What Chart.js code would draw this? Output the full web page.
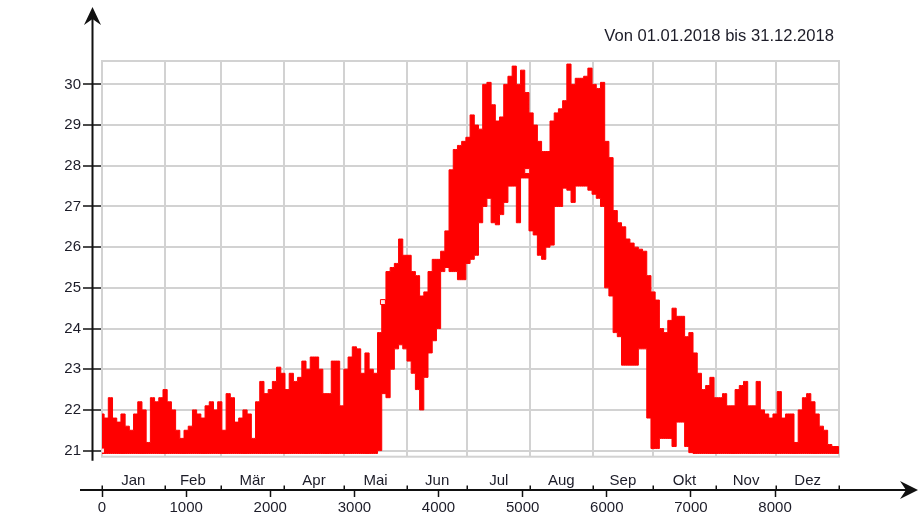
<!DOCTYPE html>
<html>
<head>
<meta charset="utf-8">
<script src="https://cdn.jsdelivr.net/npm/chart.js@4/dist/chart.umd.min.js"></script>
<style>
  html, body { margin: 0; padding: 0; background: #fff; }
  #wrap { width: 918px; height: 525px; position: relative; }
</style>
</head>
<body>
<div id="wrap"><canvas id="wykres"></canvas></div>
<script>
'use strict';

/* --- Daten --- */
var TITEL = 'Von 01.01.2018 bis 31.12.2018';
var MONATE = ['Jan', 'Feb', 'Mär', 'Apr', 'Mai', 'Jun', 'Jul', 'Aug', 'Sep', 'Okt', 'Nov', 'Dez'];
var MONAT_START = [0, 744, 1416, 2160, 2880, 3624, 4344, 5088, 5832, 6552, 7296, 8016, 8760];
var MONAT_MITTE = [372, 1080, 1788, 2520, 3252, 3984, 4716, 5460, 6192, 6924, 7656, 8388];
var STUNDEN_TICKS = [0, 1000, 2000, 3000, 4000, 5000, 6000, 7000, 8000];
var Y_TICKS = [21, 22, 23, 24, 25, 26, 27, 28, 29, 30];

var STUNDEN = [
  0, 50, 100, 150, 200, 250, 300, 350, 400, 450,
  500, 550, 600, 650, 700, 750, 800, 850, 900, 950,
  1000, 1050, 1100, 1150, 1200, 1250, 1300, 1350, 1400, 1450,
  1500, 1550, 1600, 1650, 1700, 1750, 1800, 1850, 1900, 1950,
  2000, 2050, 2100, 2150, 2200, 2250, 2300, 2350, 2400, 2450,
  2500, 2550, 2600, 2650, 2700, 2750, 2800, 2850, 2900, 2950,
  3000, 3050, 3100, 3150, 3200, 3250, 3300, 3350, 3400, 3450,
  3500, 3550, 3600, 3650, 3700, 3750, 3800, 3850, 3900, 3950,
  4000, 4050, 4100, 4150, 4200, 4250, 4300, 4350, 4400, 4450,
  4500, 4550, 4600, 4650, 4700, 4750, 4800, 4850, 4900, 4950,
  5000, 5050, 5100, 5150, 5200, 5250, 5300, 5350, 5400, 5450,
  5500, 5550, 5600, 5650, 5700, 5750, 5800, 5850, 5900, 5950,
  6000, 6050, 6100, 6150, 6200, 6250, 6300, 6350, 6400, 6450,
  6500, 6550, 6600, 6650, 6700, 6750, 6800, 6850, 6900, 6950,
  7000, 7050, 7100, 7150, 7200, 7250, 7300, 7350, 7400, 7450,
  7500, 7550, 7600, 7650, 7700, 7750, 7800, 7850, 7900, 7950,
  8000, 8050, 8100, 8150, 8200, 8250, 8300, 8350, 8400, 8450,
  8500, 8550, 8600, 8650, 8700, 8750, 8760];

// obere Huellkurve der Stundenwerte
var OBEN = [
  21.9, 21.8, 22.3, 21.8, 21.7, 21.9, 21.6, 21.5, 21.9, 22.2,
  22.0, 21.2, 22.3, 22.2, 22.3, 22.5, 22.2, 22.0, 21.5, 21.3,
  21.5, 21.6, 22.0, 21.9, 21.8, 22.1, 22.2, 22.0, 22.2, 21.5,
  22.4, 22.3, 21.7, 21.8, 22.0, 21.9, 21.3, 22.2, 22.7, 22.4,
  22.5, 22.7, 23.05, 22.9, 22.5, 22.9, 22.7, 22.8, 23.2, 23.0,
  23.3, 23.3, 23.0, 22.4, 22.4, 23.2, 23.2, 22.1, 23.0, 23.3,
  23.55, 23.5, 22.9, 23.4, 23.0, 22.9, 23.9, 24.7, 25.4, 25.5,
  25.6, 26.2, 25.8, 25.8, 25.4, 25.3, 24.8, 24.9, 25.4, 25.7,
  25.7, 25.9, 26.4, 27.9, 28.4, 28.5, 28.6, 28.7, 29.25, 29.0,
  28.9, 30.0, 30.05, 29.5, 29.1, 29.2, 30.0, 30.2, 30.45, 30.0,
  30.35, 29.8, 29.3, 29.0, 28.6, 28.35, 28.35, 29.1, 29.3, 29.4,
  29.6, 30.5, 30.0, 30.15, 30.15, 30.2, 30.4, 30.0, 29.9, 30.05,
  28.6, 28.2, 26.9, 26.6, 26.5, 26.2, 26.1, 26.0, 25.95, 25.9,
  25.3, 24.9, 24.7, 24.0, 23.9, 24.2, 24.5, 24.3, 24.3, 23.8,
  23.9, 23.4, 22.9, 22.5, 22.6, 22.8, 22.3, 22.3, 22.4, 22.1,
  22.1, 22.5, 22.6, 22.7, 22.1, 22.1, 22.7, 22.0, 21.9, 21.8,
  21.9, 22.45, 21.8, 21.9, 21.9, 21.2, 22.0, 22.3, 22.4, 22.2,
  21.9, 21.6, 21.5, 21.15, 21.1, 21.1, 21.1];

// untere Huellkurve
var UNTEN = [
  20.93, 20.93, 20.93, 20.93, 20.93, 20.93, 20.93, 20.93, 20.93, 20.93,
  20.93, 20.93, 20.93, 20.93, 20.93, 20.93, 20.93, 20.93, 20.93, 20.93,
  20.93, 20.93, 20.93, 20.93, 20.93, 20.93, 20.93, 20.93, 20.93, 20.93,
  20.93, 20.93, 20.93, 20.93, 20.93, 20.93, 20.93, 20.93, 20.93, 20.93,
  20.93, 20.93, 20.93, 20.93, 20.93, 20.93, 20.93, 20.93, 20.93, 20.93,
  20.93, 20.93, 20.93, 20.93, 20.93, 20.93, 20.93, 20.93, 20.93, 20.93,
  20.93, 20.93, 20.93, 20.93, 20.93, 20.93, 21.0, 22.4, 22.3, 23.0,
  23.5, 23.6, 23.5, 23.2, 22.9, 22.5, 22.0, 22.8, 23.4, 23.7,
  24.0, 25.4, 25.5, 25.4, 25.4, 25.2, 25.2, 25.6, 25.7, 25.8,
  26.6, 27.0, 27.2, 26.6, 26.55, 26.8, 27.1, 27.5, 27.5, 26.6,
  27.7, 27.7, 26.4, 26.3, 25.8, 25.7, 26.0, 26.05, 27.0, 27.0,
  27.45, 27.4, 27.1, 27.5, 27.5, 27.5, 27.4, 27.3, 27.2, 27.0,
  25.0, 24.8, 23.9, 23.8, 23.1, 23.1, 23.1, 23.1, 23.5, 23.5,
  21.8, 21.05, 21.05, 21.3, 21.3, 21.3, 21.1, 21.7, 21.7, 21.1,
  20.95, 20.93, 20.93, 20.93, 20.93, 20.93, 20.93, 20.93, 20.93, 20.93,
  20.93, 20.93, 20.93, 20.93, 20.93, 20.93, 20.93, 20.93, 20.93, 20.93,
  20.93, 20.93, 20.93, 20.93, 20.93, 20.93, 20.93, 20.93, 20.93, 20.93,
  20.93, 20.93, 20.93, 20.93, 20.93, 20.93, 20.93];

var MARKER_X = [0, 3339, 5054];
var MARKER_Y = [21.0, 24.65, 27.87];

/* --- Hilfen --- */
var SCHRIFT = '"Liberation Sans", Arial, sans-serif';
var TEXTFARBE = '#1c1c28';
var GITTER = '#d2d2d2';

function punkte(xs, ys) {
  return xs.map(function (x, i) { return { x: x, y: ys[i] }; });
}

function linie(ctx, x1, y1, x2, y2) {
  ctx.beginPath();
  ctx.moveTo(x1, y1);
  ctx.lineTo(x2, y2);
  ctx.stroke();
}

var rahmenPlugin = {
  id: 'rahmen',
  beforeDatasetsDraw: function (chart) {
    var ctx = chart.ctx, a = chart.chartArea;
    ctx.save();
    ctx.strokeStyle = GITTER;
    ctx.lineWidth = 2;
    ctx.strokeRect(a.left, a.top, a.right - a.left, a.bottom - a.top);
    ctx.restore();
  },
  afterDraw: function (chart) {
    var ctx = chart.ctx, a = chart.chartArea;
    var xs = chart.scales.x, xn = chart.scales.xStd;
    ctx.save();
    ctx.strokeStyle = '#111';
    ctx.fillStyle = '#111';
    ctx.lineWidth = 2;

    // Y-Achse mit Pfeil
    var ax = a.left - 9.5;
    linie(ctx, ax, a.bottom + 4, ax, 18);
    ctx.beginPath();
    ctx.moveTo(ax, 7);
    ctx.lineTo(ax + 8.5, 25);
    ctx.lineTo(ax, 19);
    ctx.lineTo(ax - 8.5, 25);
    ctx.closePath();
    ctx.fill();

    // X-Achse mit Pfeil
    var ay = xn.top;
    linie(ctx, 80, ay, 908, ay);
    ctx.beginPath();
    ctx.moveTo(918, ay);
    ctx.lineTo(900, ay - 9);
    ctx.lineTo(906, ay);
    ctx.lineTo(900, ay + 9);
    ctx.closePath();
    ctx.fill();

    // Monatsgrenzen
    ctx.lineWidth = 1.5;
    MONAT_START.forEach(function (v) {
      var px = Math.round(xs.getPixelForValue(v)) + 0.25;
      linie(ctx, px, ay - 4.5, px, ay);
    });

    // Titel
    ctx.font = '16.6px ' + SCHRIFT;
    ctx.fillStyle = TEXTFARBE;
    ctx.textAlign = 'right';
    ctx.textBaseline = 'middle';
    ctx.fillText(TITEL, 834, 36);
    ctx.restore();
  }
};

var ctx = document.getElementById('wykres');
new Chart(ctx, {
  type: 'line',
  data: {
    datasets: [
      {
        label: 'Marker',
        data: punkte(MARKER_X, MARKER_Y),
        showLine: false,
        pointStyle: 'rect',
        pointRadius: 3.5,
        pointBorderWidth: 1,
        pointBorderColor: '#ff0000',
        pointBackgroundColor: 'rgba(255,255,255,0.9)',
        order: 0
      },
      {
        label: 'oben',
        data: punkte(STUNDEN, OBEN),
        borderColor: '#ff0000',
        backgroundColor: '#ff0000',
        borderWidth: 1,
        pointRadius: 0,
        stepped: 'middle',
        fill: '+1',
        order: 1
      },
      {
        label: 'unten',
        data: punkte(STUNDEN, UNTEN),
        borderColor: '#ff0000',
        borderWidth: 1,
        pointRadius: 0,
        stepped: 'middle',
        fill: false,
        order: 1
      }
    ]
  },
  options: {
    responsive: true,
    maintainAspectRatio: false,
    animation: false,
    layout: { padding: { left: 0, right: 79, top: 61, bottom: 5.4 } },
    elements: { line: { tension: 0 } },
    plugins: {
      legend: { display: false },
      tooltip: { enabled: false },
      title: { display: false }
    },
    scales: {
      x: {
        type: 'linear',
        position: 'bottom',
        min: 0,
        max: 8760,
        afterBuildTicks: function (s) {
          s.ticks = MONAT_START.concat(MONAT_MITTE).sort(function (p, q) { return p - q; })
            .map(function (v) { return { value: v }; });
        },
        ticks: {
          autoSkip: false,
          maxRotation: 0,
          padding: 0.5,
          color: TEXTFARBE,
          font: { family: SCHRIFT, size: 15 },
          callback: function (v) {
            var i = MONAT_MITTE.indexOf(v);
            return i >= 0 ? MONATE[i] : '';
          }
        },
        grid: {
          color: function (c) {
            return c.tick && MONAT_START.indexOf(c.tick.value) >= 0 ? GITTER : 'rgba(0,0,0,0)';
          },
          lineWidth: 2,
          drawTicks: true,
          tickLength: 14.3,
          tickColor: 'rgba(0,0,0,0)'
        },
        border: { display: false }
      },
      xStd: {
        type: 'linear',
        position: 'bottom',
        min: 0,
        max: 8760,
        afterBuildTicks: function (s) {
          s.ticks = STUNDEN_TICKS.map(function (v) { return { value: v }; });
        },
        ticks: {
          autoSkip: false,
          maxRotation: 0,
          padding: 2.3,
          color: TEXTFARBE,
          font: { family: SCHRIFT, size: 15 },
          callback: function (v) { return String(v); }
        },
        grid: {
          drawOnChartArea: false,
          drawTicks: true,
          tickLength: 7,
          tickColor: '#111',
          tickWidth: 1.5
        },
        border: { display: false }
      },
      y: {
        type: 'linear',
        min: 20.85,
        max: 30.575,
        afterFit: function (s) { s.width = 102; },
        afterBuildTicks: function (s) {
          s.ticks = Y_TICKS.map(function (v) { return { value: v }; });
        },
        ticks: {
          padding: 2,
          color: TEXTFARBE,
          font: { family: SCHRIFT, size: 15 },
          callback: function (v) { return String(v); }
        },
        grid: {
          color: GITTER,
          lineWidth: 2,
          drawTicks: true,
          tickLength: 19,
          tickColor: '#111',
          tickWidth: 1.5
        },
        border: { display: false }
      }
    }
  },
  plugins: [rahmenPlugin]
});
</script>
</body>
</html>
